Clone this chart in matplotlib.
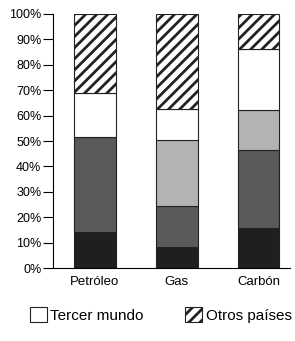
import matplotlib.pyplot as plt
import numpy as np

plt.rcParams['font.family'] = ['Liberation Sans', 'DejaVu Sans']
plt.rcParams['hatch.linewidth'] = 2.0

# datos (porcentajes, de abajo hacia arriba)
fuentes = ['Petróleo', 'Gas', 'Carbón']
serie_negra = [14.0, 8.3, 15.7]
serie_oscura = [37.6, 16.1, 30.8]
serie_clara = [0.0, 26.0, 15.7]
tercer_mundo = [17.2, 12.1, 24.0]
otros_paises = [31.2, 37.5, 13.8]

ticks_y = [0, 10, 20, 30, 40, 50, 60, 70, 80, 90, 100]

fig = plt.figure(figsize=(2.95, 3.41), dpi=100)
ax = fig.add_axes([0.18, 0.214, 0.803, 0.745])

x = np.arange(len(fuentes))
ancho = 0.51
base = np.zeros(len(fuentes))

capas = [
    (serie_negra, '#1f1f1f', None, None),
    (serie_oscura, '#5a5a5a', None, None),
    (serie_clara, '#b3b3b3', None, None),
    (tercer_mundo, 'white', None, 'Tercer mundo'),
    (otros_paises, 'white', '///', 'Otros países'),
]

for valores, color, hatch, nombre in capas:
    v = np.array(valores)
    ax.bar(x, v, ancho, bottom=base, color=color, edgecolor='#222222',
           linewidth=0.8, hatch=hatch, label=nombre)
    base += v

ax.set_xlim(-0.512, 2.384)
ax.set_ylim(0, 100)
ax.set_yticks(ticks_y)
ax.set_yticklabels([f'{t}%' for t in ticks_y], fontsize=9)
ax.set_xticks(x)
ax.set_xticklabels(fuentes, fontsize=9.5)
ax.tick_params(axis='y', length=7, width=0.8, pad=1.5)
ax.tick_params(axis='x', length=0, pad=6)
ax.spines['top'].set_visible(False)
ax.spines['right'].set_visible(False)
ax.spines['left'].set_linewidth(0.8)
ax.spines['bottom'].set_linewidth(0.8)

handles, labels = ax.get_legend_handles_labels()
fig.legend(handles, labels, loc='center', bbox_to_anchor=(0.545, 0.076),
           ncol=2, frameon=False, fontsize=11, handlelength=1.1,
           handleheight=1.1, handletextpad=0.25, columnspacing=2.7)

fig.savefig('out.png', dpi=100)
